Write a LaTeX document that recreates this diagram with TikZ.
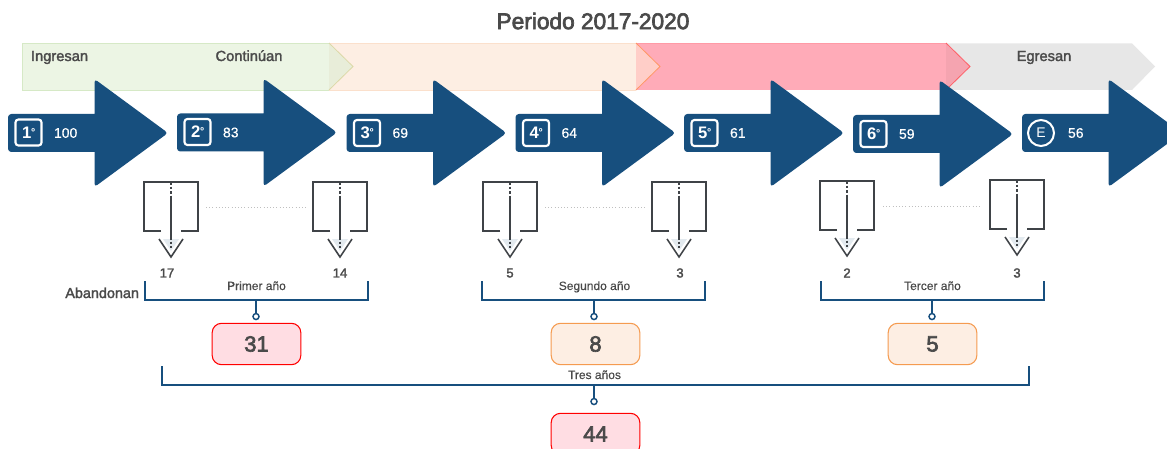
\documentclass[tikz,border=0pt]{standalone}
\usepackage{fontspec}
\setmainfont{Liberation Sans}
\newfontfamily\titlefont[FakeBold=3]{Liberation Sans}
\newfontfamily\medfont[FakeBold=2]{Liberation Sans}
\newfontfamily\regfont[FakeBold=0.4]{Liberation Sans}
\definecolor{navy}{HTML}{174F7E}
\definecolor{ink}{HTML}{4A4A4A}
\definecolor{linegray}{HTML}{3F4347}
\definecolor{bgreen}{HTML}{ECF5E4}
\definecolor{bgreenline}{HTML}{D6E9C6}
\definecolor{bgreentip}{HTML}{E8EDD9}
\definecolor{borange}{HTML}{FDEEE3}
\definecolor{borangeline}{HTML}{FBE0CC}
\definecolor{borangetip}{HTML}{FFCEC8}
\definecolor{bpink}{HTML}{FFABB8}
\definecolor{bpinktip}{HTML}{F5A4B0}
\definecolor{bgray}{HTML}{E7E7E7}
\definecolor{totalredfill}{HTML}{FFDDE3}
\definecolor{totalorangeline}{HTML}{F59B50}
\tikzset{
  every node/.style={inner sep=0pt,outer sep=0pt,text=ink},
  band/.style={line width=0.6pt},
  bandlabel/.style={anchor=base,font=\medfont\fontsize{11}{12}\selectfont},
  badge/.style={draw=white,line width=1.6pt,rounded corners=2.2pt,minimum width=19.5pt,minimum height=19.5pt,text=white,font=\bfseries\fontsize{12.5}{13}\selectfont},
  count/.style={text=white,anchor=west,font=\regfont\fontsize{10.5}{12}\selectfont},
  funnelline/.style={draw=linegray,line width=1.15pt},
  dropnum/.style={font=\medfont\fontsize{9.8}{12}\selectfont},
  brace/.style={draw=navy,line width=1.2pt},
  braceend/.style={circle,draw=navy,fill=white,line width=1.1pt,minimum size=4.5pt},
  bracelabel/.style={anchor=base,font=\regfont\fontsize{9}{10}\selectfont},
  total/.style={rounded corners=7pt,line width=0.8pt,minimum width=66.5pt,minimum height=31pt,font=\titlefont\fontsize{16.5}{18}\selectfont},
  totalred/.style={total,draw=red,fill=totalredfill},
  totalorange/.style={total,draw=totalorangeline,fill=borange}
}
\begin{document}
\begin{tikzpicture}[x=0.75pt,y=-0.75pt]
\clip (0,0) rectangle (1167,449);
\fill[white] (0,0) rectangle (1167,449);
\node[font=\titlefont\fontsize{17}{18}\selectfont] (title) at (593,21) {Periodo 2017-2020};
% bands
\fill[bgray] (947,43.5) -- (1132,43.5) -- (1155,66.5) -- (1132,90) -- (947,90) -- cycle;
\fill[bpink] (636,43) -- (946,43) -- (946,90) -- (636,90) -- cycle;
\draw[band,draw=bpink!90!red] (636,43) -- (946,43);
\fill[bpinktip] (946,43) -- (970,66.5) -- (946,90) -- cycle;
\draw[band,draw=red!45!bpink] (946,43) -- (970,66.5) -- (946,90);
\fill[borange] (329,43) -- (636,43) -- (636,90) -- (329,90) -- cycle;
\draw[band,draw=borangeline] (636,43) -- (329,43) (329,90) -- (636,90);
\fill[borangetip] (636,43) -- (660,66.5) -- (636,90) -- cycle;
\draw[band,draw=orange!45!bpink] (636,43) -- (660,66.5) -- (636,90);
\fill[bgreen] (22,43) -- (329,43) -- (329,90) -- (22,90) -- cycle;
\draw[band,draw=bgreenline] (329,43) -- (22,43) -- (22,90) -- (329,90);
\fill[bgreentip] (329,43) -- (353,66.5) -- (329,90) -- cycle;
\draw[band,draw=bgreenline!85!orange] (329,43) -- (353,66.5) -- (329,90);
\node[bandlabel,anchor=base west] (ingresan) at (31,61) {Ingresan};
\node[bandlabel] (continuan) at (249,61) {Continúan};
\node[bandlabel] (egresan) at (1044,61) {Egresan};
% arrows
\foreach \x/\y/\n/\lab in {8/133/a/100,177/132.5/b/83,346.5/133/c/69,515.5/133/d/64,684/133/e/61,853/134/f/59,1022/133/g/56}{
  \begin{scope}[shift={(\x,\y)}]
    \fill[navy] (30,-19) [sharp corners] -- (86.5,-19) [rounded corners=2.5pt] -- (86.5,-54) -- (160,0) -- (86.5,54) [sharp corners] -- (86.5,19) [rounded corners=2.5pt] -- (0,19) -- (0,-19) -- cycle;
    \node[count] (count\n) at (46,0) {\lab};
  \end{scope}
}
\foreach \x/\y/\n/\lab in {28.5/132.5/a/1,197.5/132/b/2,367/133/c/3,536/133/d/4,704.5/133/e/5,873.5/134/f/6}{
  \node[badge] (badge\n) at (\x,\y) {\lab\raisebox{2.4pt}{\fontsize{7.5}{8}\selectfont º}};
}
\node[badge,rounded corners=0pt,draw=none] (badgeg) at (1041,133) {\fontsize{10.5}{12}\mdseries\selectfont E};
\draw[white,line width=1.5pt] (badgeg) circle[radius=13];
% funnels
\foreach \x/\y in {144/182,313/182,483/182,652/182,820/181,990/180}{
  \begin{scope}[shift={(\x,\y)}]
    \fill[navy!12] (19,57) -- (35,57) -- (27,69) -- cycle;
    \draw[funnelline] (17,49) -- (0,49) -- (0,0) -- (54,0) -- (54,49) -- (37,49);
    \draw[funnelline] (27,15) -- (27,55);
    \draw[funnelline,line width=0.9pt,dash pattern=on 2pt off 1.4pt] (27,0) -- (27,15) (27,55) -- (27,66);
    \draw[funnelline] (15,57) -- (27,75) -- (39,57);
  \end{scope}
}
\foreach \a/\b/\y in {206/306/207,545/645/207,883/981/206}{
  \draw[black!25,line width=0.4pt,dotted] (\a,\y) -- (\b,\y);
}
% numbers
\foreach \x/\lab/\n in {167/17/p,340/14/q,510/5/r,680/3/s,847/2/t,1017/3/u}{
  \node[dropnum] (drop\n) at (\x,273) {\lab};
}
\node[anchor=base east,font=\medfont\fontsize{10.8}{12}\selectfont] (abandonan) at (139,298) {Abandonan};
% totals
\node[totalred] (t1) at (256.5,344) {31};
\node[totalorange] (t2) at (595.5,344) {8};
\node[totalorange] (t3) at (932.5,344) {5};
\node[totalred] (t4) at (595.5,434) {44};
% braces
\foreach \l/\r/\m/\top/\bot/\n/\lab/\ly in {145/368/256/281/300/a/Primer año/290,482/705/594/281/300/b/Segundo año/290,821/1044/932/281/300/c/Tercer año/290,162/1029/594/366/385/d/Tres años/379}{
  \coordinate (bl\n) at (\l,\top);
  \coordinate (br\n) at (\r,\top);
  \coordinate (bm\n) at (\m,\bot);
  \draw[brace] (bl\n) |- (bm\n) -| (br\n);
  \node[braceend] (be\n) at ([yshift=-12.4pt]bm\n) {};
  \draw[brace] (bm\n) -- (be\n);
  \path (bm\n) ++(0.5,0) coordinate (lx\n);
  \node[bracelabel] (lab\n) at (lx\n |- 0,\ly) {\lab};
}
\end{tikzpicture}
\end{document}
